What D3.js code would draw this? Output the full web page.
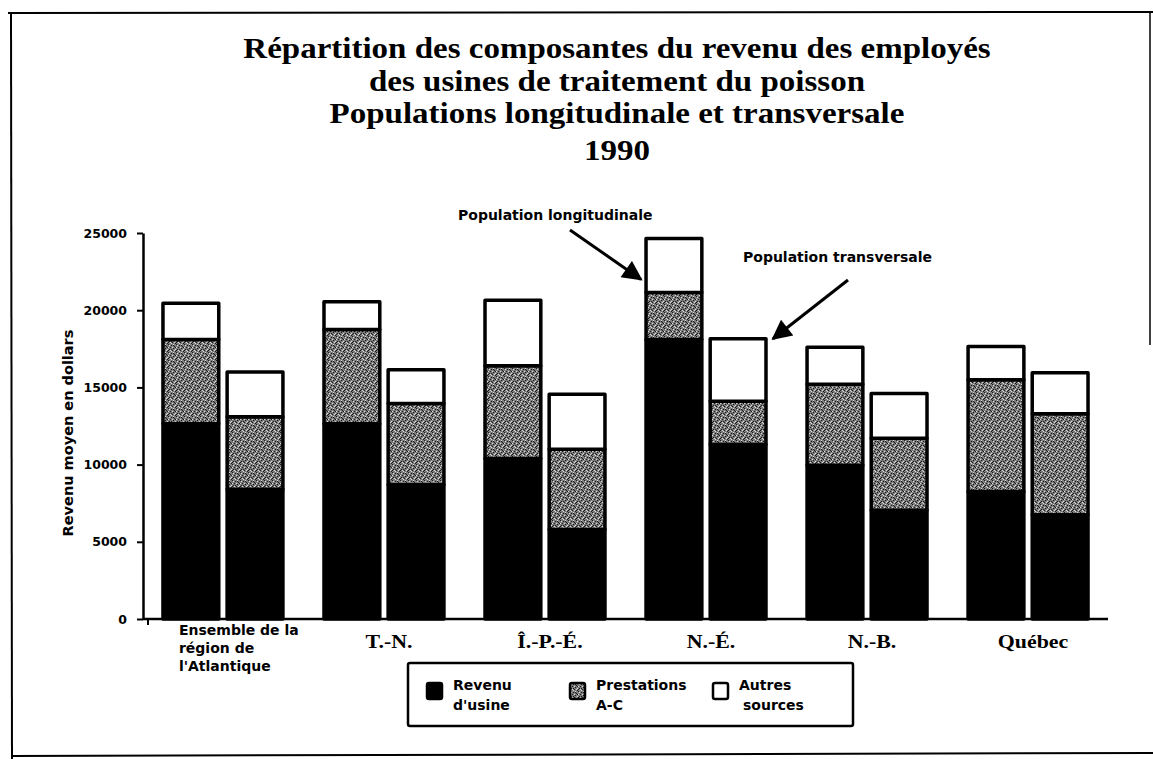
<!DOCTYPE html>
<html>
<head>
<meta charset="utf-8">
<script src="https://cdn.jsdelivr.net/npm/d3@7"></script>
<style>
  body { margin: 0; background: #fff; }
  svg { display: block; }
</style>
</head>
<body>
<div class="chart"></div>
<script>
// categories and series (1990, dollars)
let regions = ["Atlantique", "T.-N.", "Î.-P.-É.", "N.-É.", "N.-B.", "Québec"];
let atlantiqueLines = ["Ensemble de la", "région de", "l'Atlantique"];
let populations = ["longitudinale", "transversale"];
let components = ["usine", "prestations", "autres"];

// population longitudinale
let usineLong  = [12650, 12650, 10400, 18100, 9950, 8250];
let prestLong  = [5450, 6100, 6000, 3050, 5250, 7250];
let autresLong = [2350, 1800, 4250, 3500, 2400, 2150];
// population transversale
let usineTrans  = [8400, 8700, 5800, 11300, 7050, 6750];
let prestTrans  = [4700, 5250, 5200, 2800, 4650, 6550];
let autresTrans = [2900, 2200, 3550, 4050, 2900, 2650];

let yTicks = [0, 5000, 10000, 15000, 20000, 25000];
let titleLines = [
  "Répartition des composantes du revenu des employés",
  "des usines de traitement du poisson",
  "Populations longitudinale et transversale",
  "1990"
];
let legendLabels = [["Revenu", "d'usine"], ["Prestations", "A-C"], ["Autres", "sources"]];

let W = 1153, H = 759;
let sans = "'DejaVu Sans', Verdana, sans-serif";
let serif = "'Liberation Serif', 'Times New Roman', serif";

let svg = d3.select(".chart").append("svg")
    .attr("width", W)
    .attr("height", H);

svg.append("rect").attr("width", W).attr("height", H).attr("fill", "#fff");

// stippled grey for the A-C benefits (fixed dot layout, no randomness)
let defs = svg.append("defs");
let pat = defs.append("pattern")
    .attr("id", "stipple")
    .attr("patternUnits", "userSpaceOnUse")
    .attr("width", 8).attr("height", 8);
pat.append("rect").attr("width", 8).attr("height", 8).attr("fill", "#7c7c7c");
[[0,0],[3,1],[5,4],[1,5],[4,6],[6,2],[2,3],[7,7],[0,6],[5,1],[3,5],[7,3]].forEach(function(p){
  pat.append("rect").attr("x", p[0]).attr("y", p[1]).attr("width", 1).attr("height", 1).attr("fill", "#1a1a1a");
});
[[1,1],[4,3],[6,6],[2,6],[0,3],[5,0],[7,5],[3,7]].forEach(function(p){
  pat.append("rect").attr("x", p[0]).attr("y", p[1]).attr("width", 1).attr("height", 1).attr("fill", "#d8d8d8");
});

let fills = {usine: "#000", prestations: "url(#stipple)", autres: "#fff"};

// frame of the scanned page
let frame = svg.append("g").attr("stroke", "#000").attr("fill", "none");
frame.append("line").attr("x1", 8).attr("x2", 1153).attr("y1", 13).attr("y2", 12).attr("stroke-width", 2);
frame.append("line").attr("x1", 11).attr("x2", 12).attr("y1", 13).attr("y2", 759).attr("stroke-width", 2);
frame.append("line").attr("x1", 1150).attr("x2", 1150).attr("y1", 12).attr("y2", 345).attr("stroke-width", 1.5);
frame.append("line").attr("x1", 11).attr("x2", 1153).attr("y1", 756).attr("y2", 753).attr("stroke-width", 2);

// title (the scanned face is wider than Liberation Serif, so stretch a little)
svg.append("g").selectAll("text")
    .data(titleLines)
    .join("text")
    .attr("x", 617)
    .attr("y", (d, i) => i < 3 ? 58 + i * 32.5 : 160)
    .attr("text-anchor", "middle")
    .attr("font-family", serif)
    .attr("font-weight", "bold")
    .attr("font-size", 30)
    .text(d => d)
    .each(function(){
      let len = this.getComputedTextLength();
      d3.select(this).attr("textLength", len * 1.1).attr("lengthAdjust", "spacingAndGlyphs");
    });

// scales
let yScale = d3.scaleLinear().domain([0, 25000]).range([619, 233]);
let xScale = d3.scaleBand().domain(regions).range([143, 1108])
    .paddingInner(0.255).paddingOuter(0.124);
let xPop = d3.scaleBand().domain(populations).range([0, xScale.bandwidth()])
    .paddingInner(0.13);

// rows for stacking
let rows = [];
regions.forEach(function(r, i){
  rows.push({region: r, pop: "longitudinale", usine: usineLong[i], prestations: prestLong[i], autres: autresLong[i]});
  rows.push({region: r, pop: "transversale", usine: usineTrans[i], prestations: prestTrans[i], autres: autresTrans[i]});
});
let stacked = d3.stack().keys(components)(rows);

let bars = svg.append("g");
stacked.forEach(function(layer){
  bars.append("g")
    .selectAll("rect")
    .data(layer)
    .join("rect")
    .attr("x", d => xScale(d.data.region) + xPop(d.data.pop))
    .attr("y", d => yScale(d[1]))
    .attr("width", xPop.bandwidth())
    .attr("height", d => yScale(d[0]) - yScale(d[1]))
    .attr("fill", fills[layer.key])
    .attr("stroke", "#000")
    .attr("stroke-width", 3.5)
    .attr("stroke-linejoin", "round");
});

// axes
let yAxis = svg.append("g")
    .attr("transform", "translate(143,0)")
    .call(d3.axisLeft(yScale).tickValues(yTicks).tickSize(6).tickSizeOuter(0).tickPadding(10).tickFormat(d3.format("d")));
yAxis.select(".domain").attr("stroke-width", 2.5);
yAxis.selectAll(".tick line").attr("stroke-width", 2);
yAxis.selectAll(".tick text")
    .attr("font-family", sans)
    .attr("font-weight", "bold")
    .attr("font-size", 12.5);

svg.append("line")
    .attr("x1", 143).attr("x2", 1108)
    .attr("y1", yScale(0)).attr("y2", yScale(0))
    .attr("stroke", "#000").attr("stroke-width", 2.5);
svg.append("line")
    .attr("x1", 148).attr("x2", 148)
    .attr("y1", yScale(0)).attr("y2", yScale(0) + 6)
    .attr("stroke", "#000").attr("stroke-width", 2);

svg.append("text")
    .attr("transform", "translate(73,433) rotate(-90)")
    .attr("text-anchor", "middle")
    .attr("font-family", sans)
    .attr("font-weight", "bold")
    .attr("font-size", 14.5)
    .text("Revenu moyen en dollars");

// category labels
let catG = svg.append("g");
catG.selectAll("text.atl")
    .data(atlantiqueLines)
    .join("text")
    .attr("class", "atl")
    .attr("x", xScale(regions[0]) + 16)
    .attr("y", (d, i) => 635 + i * 18)
    .attr("font-family", sans)
    .attr("font-weight", "bold")
    .attr("font-size", 14)
    .text(d => d);
catG.selectAll("text.reg")
    .data(regions.slice(1))
    .join("text")
    .attr("class", "reg")
    .attr("x", d => xScale(d) + xScale.bandwidth() / 2 + 5)
    .attr("y", 648)
    .attr("text-anchor", "middle")
    .attr("font-family", serif)
    .attr("font-weight", "bold")
    .attr("font-size", 19)
    .text(d => d)
    .each(function(){
      let len = this.getComputedTextLength();
      d3.select(this).attr("textLength", len * 1.15).attr("lengthAdjust", "spacingAndGlyphs");
    });

// annotations pointing at the N.-É. bars
let neIdx = regions.indexOf("N.-É.");
let neX = xScale("N.-É.");
let longTop = yScale(usineLong[neIdx] + prestLong[neIdx] + autresLong[neIdx]);
let transTop = yScale(usineTrans[neIdx] + prestTrans[neIdx] + autresTrans[neIdx]);

defs.append("marker")
    .attr("id", "head")
    .attr("viewBox", "0 0 10 10")
    .attr("refX", 9).attr("refY", 5)
    .attr("markerWidth", 22).attr("markerHeight", 20)
    .attr("markerUnits", "userSpaceOnUse")
    .attr("orient", "auto")
    .append("path").attr("d", "M0,0 L10,5 L0,10 z").attr("fill", "#000");

let ann = svg.append("g").attr("font-family", sans).attr("font-weight", "bold").attr("font-size", 14);
ann.append("text").attr("x", 458).attr("y", 220).text("Population longitudinale");
ann.append("line")
    .attr("x1", 570).attr("y1", 230)
    .attr("x2", neX + xPop("longitudinale") - 5).attr("y2", longTop + 41)
    .attr("stroke", "#000").attr("stroke-width", 3)
    .attr("marker-end", "url(#head)");
ann.append("text").attr("x", 743).attr("y", 262).text("Population transversale");
ann.append("line")
    .attr("x1", 848).attr("y1", 280)
    .attr("x2", neX + xPop("transversale") + xPop.bandwidth() + 7).attr("y2", transTop)
    .attr("stroke", "#000").attr("stroke-width", 3)
    .attr("marker-end", "url(#head)");

// legend
let legend = svg.append("g");
legend.append("rect")
    .attr("x", 408).attr("y", 663).attr("width", 445).attr("height", 63)
    .attr("fill", "#fff").attr("stroke", "#000").attr("stroke-width", 2.5).attr("rx", 2);
let legX = [427, 570, 713];
let item = legend.selectAll("g.item")
    .data(components)
    .join("g")
    .attr("class", "item")
    .attr("transform", (d, i) => "translate(" + legX[i] + ",683)");
item.append("rect")
    .attr("width", 15).attr("height", 16).attr("rx", 2)
    .attr("fill", d => fills[d])
    .attr("stroke", "#000").attr("stroke-width", 2.5);
item.each(function(d, i){
  d3.select(this).selectAll("text")
    .data(legendLabels[i])
    .join("text")
    .attr("x", (t, j) => 26 + (i === 2 && j === 1 ? 4 : 0))
    .attr("y", (t, j) => 7 + j * 20)
    .attr("font-family", sans)
    .attr("font-weight", "bold")
    .attr("font-size", 14)
    .text(t => t);
});
</script>
</body>
</html>
